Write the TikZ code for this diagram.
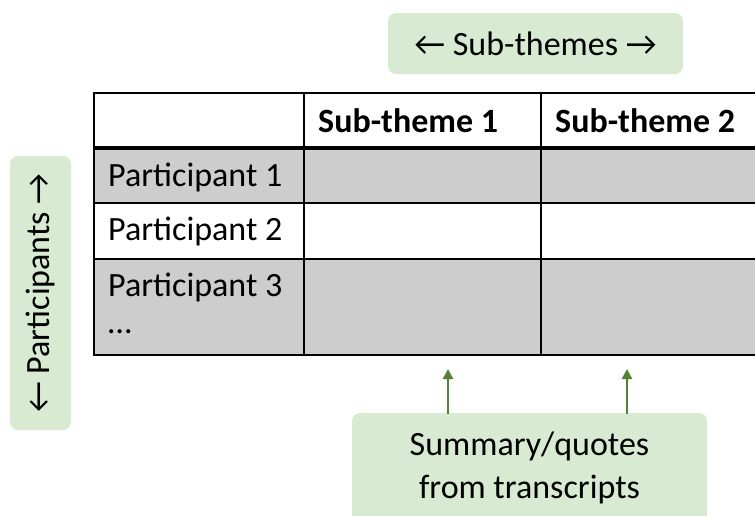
\documentclass[tikz,border=0pt]{standalone}
\usepackage{fontspec}
\setmainfont{Carlito}
\usetikzlibrary{arrows.meta}
\definecolor{paleGreen}{RGB}{217,234,211}
\definecolor{arrowGreen}{RGB}{84,130,53}
\definecolor{cellGray}{RGB}{205,205,205}
\tikzset{
  tagbox/.style={fill=paleGreen, draw=none, rounded corners=8pt},
  cellfill/.style={fill=cellGray, draw=none},
  gridline/.style={line width=1.8pt, black},
  headline/.style={line width=3.4pt, black},
  celltext/.style={anchor=west, inner sep=0pt, font=\fontsize{34}{40}\selectfont},
  headtext/.style={anchor=west, inner sep=0pt, font=\fontsize{34}{40}\selectfont\bfseries},
  labeltext/.style={inner sep=0pt, font=\fontsize{34}{43}\selectfont, align=center},
  uparrow/.style={arrowGreen, line width=2.5pt, -{Triangle[length=10pt,width=10pt]}}
}
\begin{document}
\begin{tikzpicture}[x=1pt,y=-1pt]
  \useasboundingbox (0,0) rectangle (755,515);
  \clip (0,0) rectangle (755,515);

  % shaded rows of the table
  \fill[cellfill] (94,148) rectangle (755,203);
  \fill[cellfill] (94,259) rectangle (755,355);

  % grid
  \draw[gridline] (755,93) -- (94,93) -- (94,355) -- (755,355);
  \draw[gridline] (94,203) -- (755,203);
  \draw[gridline] (94,259) -- (755,259);
  \draw[gridline] (304,93) -- (304,355);
  \draw[gridline] (541,93) -- (541,355);
  \draw[headline] (94,148) -- (755,148);

  % header cells
  \node[headtext] (h1) at (318,121) {Sub-theme 1};
  \node[headtext] (h2) at (555,121) {Sub-theme 2};

  % row labels
  \node[celltext] (p1) at (108,177) {Participant 1};
  \node[celltext] (p2) at (108,231) {Participant 2};
  \node[celltext] (p3) at (108,287) {Participant 3};
  \node[celltext] (pm) at (108,332) {\dots};

  % axis tags
  \fill[tagbox] (388,13) rectangle (683,74);
  \node[labeltext] (subthemes) at (535.5,43.5) {← Sub-themes →};

  \fill[tagbox] (10,156) rectangle (71,430);
  \node[labeltext, rotate=90] (participants) at (40.5,293) {← Participants →};

  \fill[tagbox] (352,413) rectangle (707,540);
  \node[labeltext] (summary) at (529.5,468) {Summary/quotes\\from transcripts};

  % arrows from the summary box up to the sub-theme columns
  \coordinate (a1top) at (448,369);
  \coordinate (a2top) at (627,369);
  \coordinate (a1bot) at (448,414);
  \coordinate (a2bot) at (627,414);
  \draw[uparrow] (a1bot) -- (a1top);
  \draw[uparrow] (a2bot) -- (a2top);
\end{tikzpicture}
\end{document}
